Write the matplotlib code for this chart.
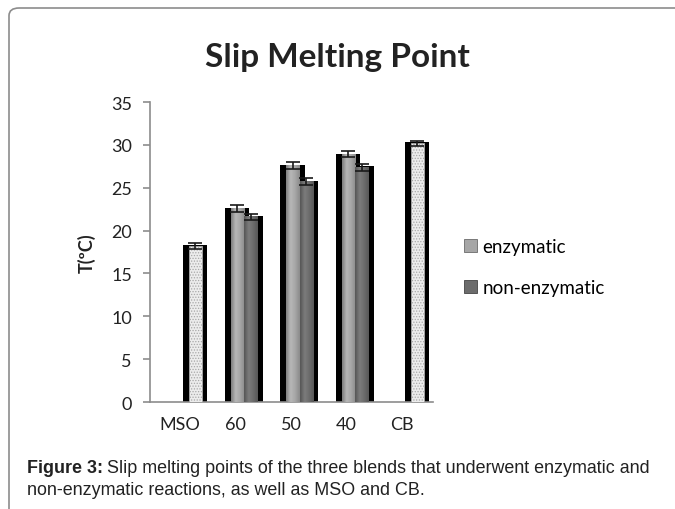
import numpy as np
import matplotlib
matplotlib.use("Agg")
from matplotlib import pyplot as plt
from matplotlib.colors import LinearSegmentedColormap
from matplotlib.patches import FancyBboxPatch, Patch

plt.rcParams['font.family'] = ['Lato', 'DejaVu Sans']
plt.rcParams['hatch.linewidth'] = 0.6

# Slip melting points
categories = ['MSO', '60', '50', '40', 'CB']
enzymatic = [np.nan, 22.6, 27.6, 28.9, np.nan]
non_enzymatic = [np.nan, 21.6, 25.7, 27.4, np.nan]
pure_fats = [18.2, np.nan, np.nan, np.nan, 30.2]   # MSO and CB
enzymatic_err = [np.nan, 0.4, 0.4, 0.35, np.nan]
non_enzymatic_err = [np.nan, 0.4, 0.4, 0.4, np.nan]
pure_fats_err = [0.35, np.nan, np.nan, np.nan, 0.3]

fig = plt.figure(figsize=(6.75, 5.1), dpi=100)
ax = fig.add_axes([0.2222, 0.2098, 0.4193, 0.588])

# frame around the chart (rounded top-left corner, runs off the page)
frame = FancyBboxPatch((9 / 675, -0.1), 1.2, 1.1 - 9 / 510,
                       boxstyle="round,pad=0,rounding_size=0.015",
                       transform=fig.transFigure, fill=False,
                       edgecolor='#8c8c8c', lw=1.2)
fig.patches.append(frame)

x = np.arange(len(categories))
width = 0.243
off_enz = 0.036
off_non = 0.28
# shadow size in data units
sh_left, sh_right, sh_top = 0.11, 0.09, 0.35

light = LinearSegmentedColormap.from_list('light', ['#7d7d7d', '#b8b8b8', '#a6a6a6', '#8a8a8a'])
dark = LinearSegmentedColormap.from_list('dark', ['#555555', '#7c7c7c', '#6c6c6c', '#575757'])
grad = np.linspace(0, 1, 64)[np.newaxis, :]


def shadow(xc, h):
    ax.bar(xc - width / 2 - sh_left, h + sh_top, width + sh_left + sh_right,
           bottom=-0.25, align='edge', color='black', zorder=2)


def gradient_bar(xc, h, cmap):
    ax.imshow(grad, extent=[xc - width / 2, xc + width / 2, 0, h], cmap=cmap,
              aspect='auto', interpolation='bicubic', zorder=3)


for i in range(len(categories)):
    if not np.isnan(enzymatic[i]):
        shadow(x[i] + off_enz, enzymatic[i])
        shadow(x[i] + off_non, non_enzymatic[i])
    if not np.isnan(pure_fats[i]):
        shadow(x[i] + off_non, pure_fats[i])

for i in range(len(categories)):
    if not np.isnan(enzymatic[i]):
        gradient_bar(x[i] + off_enz, enzymatic[i], light)
        gradient_bar(x[i] + off_non, non_enzymatic[i], dark)

ax.bar(x + off_non, pure_fats, width, color='#ececec', edgecolor='#a8a8a8',
       hatch='......', lw=0.6, zorder=3)

# error bars
errkw = dict(fmt='none', ecolor='#1a1a1a', elinewidth=1.2, capsize=5, capthick=1.2, zorder=4)
ax.errorbar(x + off_enz, enzymatic, yerr=enzymatic_err, **errkw)
ax.errorbar(x + off_non, non_enzymatic, yerr=non_enzymatic_err, **errkw)
ax.errorbar(x + off_non, pure_fats, yerr=pure_fats_err, **errkw)

ax.set_xlim(-0.54, 4.56)
ax.set_ylim(0, 35)
ax.set_yticks(range(0, 36, 5))
ax.set_xticks(x)
ax.set_xticklabels(categories)
for s in ['top', 'right']:
    ax.spines[s].set_visible(False)
for s in ['left', 'bottom']:
    ax.spines[s].set_color('#8c8c8c')
    ax.spines[s].set_linewidth(1.2)
ax.tick_params(axis='y', length=5, width=1.2, color='#8c8c8c', pad=8,
               labelsize=13, labelcolor='#222222')
ax.tick_params(axis='x', length=0, pad=10, labelsize=13, labelcolor='#222222')

ax.set_ylabel('T(ºC)', fontsize=13, fontweight='bold', color='#222222')
ax.yaxis.set_label_coords(-0.19, 0.5)

fig.text(0.5, 0.888, 'Slip Melting Point', ha='center', va='center',
         fontsize=24, fontweight='bold', color='#222222')

handles = [Patch(facecolor='#a6a6a6', edgecolor='#6a6a6a', lw=0.6),
           Patch(facecolor='#6c6c6c', edgecolor='#444444', lw=0.6)]
ax.legend(handles, ['enzymatic', 'non-enzymatic'], loc='center left',
          bbox_to_anchor=(0.687, 0.4745), bbox_transform=fig.transFigure,
          frameon=False, fontsize=13.5, handlelength=0.7, handleheight=0.7,
          handletextpad=0.3, labelspacing=1.3, borderpad=0, borderaxespad=0)

# caption
cap_font = ['Liberation Sans', 'DejaVu Sans']
y1 = 1 - 469 / 510
lead = fig.text(27 / 675, y1, 'Figure 3:', fontsize=12.9, fontweight='bold',
                family=cap_font, color='#222222', va='center')
fig.canvas.draw()
bb = lead.get_window_extent().transformed(fig.transFigure.inverted())
fig.text(bb.x1 + 4 / 675, y1,
         'Slip melting points of the three blends that underwent enzymatic and',
         fontsize=12.9, family=cap_font, color='#222222', va='center')
fig.text(27 / 675, 1 - 491 / 510, 'non-enzymatic reactions, as well as MSO and CB.',
         fontsize=12.9, family=cap_font, color='#222222', va='center')

plt.savefig('out.png', dpi=100)
